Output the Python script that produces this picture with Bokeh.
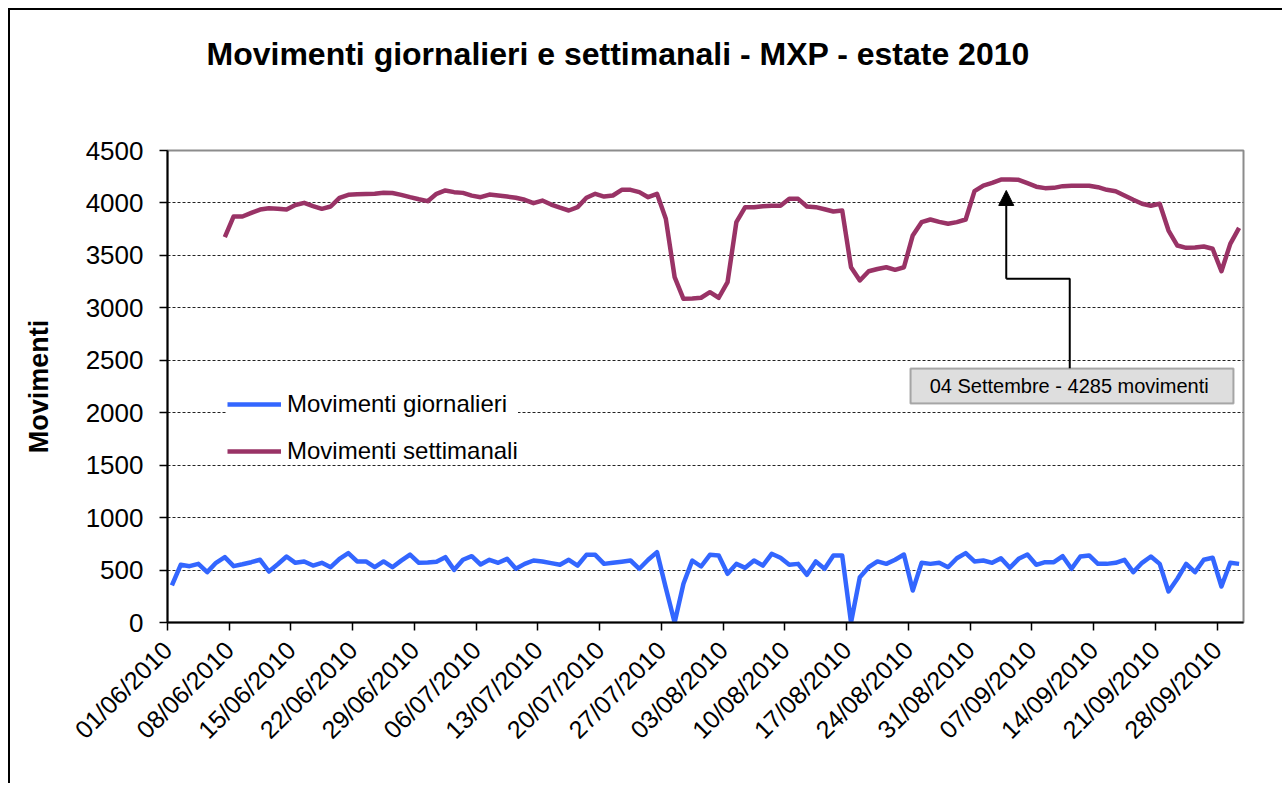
import numpy as np
from bokeh.plotting import figure
from bokeh.models import (Range1d, FixedTicker, Legend, LegendItem, BoxAnnotation,
                          Label, Arrow, NormalHead, Title)
from bokeh.embed import file_html
from bokeh.resources import INLINE

# ---------------- data ----------------
# daily movements, 01/06/2010 .. 30/09/2010 (122 days)
giornalieri = [
    353, 550, 537, 559, 480, 569, 623, 537, 555, 575,
    598, 486, 555, 629, 569, 582, 543, 569, 527, 607,
    661, 582, 582, 527, 582, 527, 590, 648, 569, 572,
    580, 623, 502, 598, 632, 553, 598, 569, 607, 512,
    559, 591, 582, 566, 550, 598, 543, 645, 645, 559,
    570, 580, 591, 512, 598, 671, 330, 0, 369, 591,
    534, 645, 639, 464, 559, 521, 591, 543, 655, 617,
    550, 559, 455, 582, 512, 639, 639, 0, 432, 527,
    582, 559, 598, 648, 305, 569, 559, 569, 527, 613,
    661, 582, 591, 569, 613, 521, 607, 648, 550, 575,
    575, 632, 512, 629, 639, 559, 559, 569, 598, 480,
    569, 629, 559, 296, 417, 559, 480, 598, 617, 343,
    569, 559,
]
# weekly movements, 07/06/2010 .. 30/09/2010
settimanali = [
    3673, 3871, 3871, 3905, 3937, 3950, 3945, 3937, 3980, 4001,
    3970, 3944, 3966, 4049, 4077, 4083, 4085, 4087, 4098, 4095,
    4077, 4055, 4035, 4017, 4087, 4119, 4103, 4096, 4070, 4055,
    4080, 4070, 4061, 4049, 4030, 3998, 4023, 3985, 3955, 3928,
    3960, 4049, 4087, 4061, 4071, 4125, 4125, 4103, 4055, 4087,
    3849, 3292, 3086, 3090, 3096, 3149, 3096, 3245, 3817, 3960,
    3960, 3968, 3973, 3973, 4039, 4039, 3966, 3960, 3940, 3918,
    3928, 3387, 3261, 3349, 3370, 3387, 3362, 3387, 3690, 3817,
    3842, 3820, 3801, 3817, 3842, 4112, 4166, 4192, 4223, 4223,
    4220, 4188, 4155, 4141, 4144, 4160, 4163, 4163, 4163, 4150,
    4125, 4112, 4071, 4030, 3992, 3973, 3992, 3737, 3594, 3572,
    3575, 3585, 3563, 3349, 3610, 3763,
]
tick_labels = [
    "01/06/2010", "08/06/2010", "15/06/2010", "22/06/2010", "29/06/2010",
    "06/07/2010", "13/07/2010", "20/07/2010", "27/07/2010", "03/08/2010",
    "10/08/2010", "17/08/2010", "24/08/2010", "31/08/2010", "07/09/2010",
    "14/09/2010", "21/09/2010", "28/09/2010",
]
n_days = len(giornalieri)
first_week_day = n_days - len(settimanali)
peak_day = 95  # 04/09/2010
title_text = "Movimenti giornalieri e settimanali - MXP - estate 2010"
annot_text = "04 Settembre  - 4285 movimenti"

x_daily = np.arange(n_days) + 0.5
x_weekly = np.arange(first_week_day, n_days) + 0.5
tick_pos = [7 * i for i in range(len(tick_labels))]

FONT = "Liberation Sans"

p = figure(width=1274, height=775, output_backend="svg", toolbar_location=None,
           x_range=Range1d(0, n_days), y_range=Range1d(0, 4500),
           min_border_left=157, min_border_right=41, min_border_top=140,
           min_border_bottom=163)
p.styles = {"margin": "10px 0px 0px 10px", "box-shadow": "-2px -2px 0px 0px #000000"}

p.title = Title(text=title_text, text_font=FONT, text_font_size="32px",
                text_font_style="bold", align="left", offset=39, standoff=0,
                text_color="black")
# empty spacer panel between the title and the plot area
p.add_layout(Title(text=" ", text_font=FONT, text_font_size="32px", standoff=41), "above")

# axes
p.xaxis.ticker = FixedTicker(ticks=tick_pos)
p.xaxis.major_label_overrides = {t: l for t, l in zip(tick_pos, tick_labels)}
p.xaxis.major_label_orientation = np.pi / 4
p.yaxis.ticker = FixedTicker(ticks=list(range(0, 4501, 500)))
for ax in (p.xaxis, p.yaxis):
    ax.axis_line_color = "black"
    ax.axis_line_width = 2
    ax.major_tick_line_color = "black"
    ax.major_tick_line_width = 1.5
    ax.major_tick_out = 8
    ax.major_tick_in = 0
    ax.minor_tick_line_color = None
    ax.major_label_text_font = FONT
    ax.major_label_text_color = "black"
p.yaxis.major_label_text_font_size = "26px"
p.xaxis.major_label_text_font_size = "25px"
p.yaxis.major_label_standoff = 16
p.xaxis.major_label_standoff = 15
p.yaxis.axis_label = "Movimenti"
p.yaxis.axis_label_text_font = FONT
p.yaxis.axis_label_text_font_size = "27px"
p.yaxis.axis_label_text_font_style = "bold"
p.yaxis.axis_label_text_color = "black"
p.yaxis.axis_label_standoff = 29

p.xgrid.grid_line_color = None
p.ygrid.grid_line_color = "#222222"
p.ygrid.grid_line_dash = "3 2"
p.ygrid.grid_line_width = 1

p.outline_line_color = "#8c8c8c"
p.outline_line_width = 2
p.background_fill_color = "white"
p.border_fill_color = "white"

r_day = p.line(x_daily, giornalieri, line_color="#3366FF", line_width=4.5,
               line_join="round")
r_week = p.line(x_weekly, settimanali, line_color="#993366", line_width=4.5,
                line_join="round")

legend = Legend(items=[LegendItem(label="Movimenti giornalieri", renderers=[r_day]),
                       LegendItem(label="Movimenti settimanali", renderers=[r_week])],
                location=(60, 157), label_text_font=FONT, label_text_font_size="24px",
                label_text_color="black", glyph_width=54, glyph_height=26,
                label_height=26, spacing=19, padding=8, label_standoff=6,
                border_line_color=None, background_fill_color="white",
                background_fill_alpha=1)
p.add_layout(legend, "center")

# callout
p.add_layout(BoxAnnotation(left=84.24, right=120.87, bottom=2088, top=2422,
                           fill_color="#dedede", fill_alpha=1,
                           line_color="black", line_width=2, level="annotation"))
p.add_layout(Label(x=102.55, y=2255, text=annot_text, text_align="center",
                   text_baseline="middle", text_font=FONT, text_font_size="20px",
                   text_color="black"))
p.line([102.3, 102.3, peak_day + 0.1], [2422, 3277, 3277], line_color="black",
       line_width=2)
p.add_layout(Arrow(x_start=peak_day + 0.1, y_start=3277, x_end=peak_day + 0.1, y_end=4119,
                   line_color="black", line_width=2,
                   end=NormalHead(size=15, fill_color="black", line_color="black")))

open("out.html", "w").write(file_html(p, INLINE))
